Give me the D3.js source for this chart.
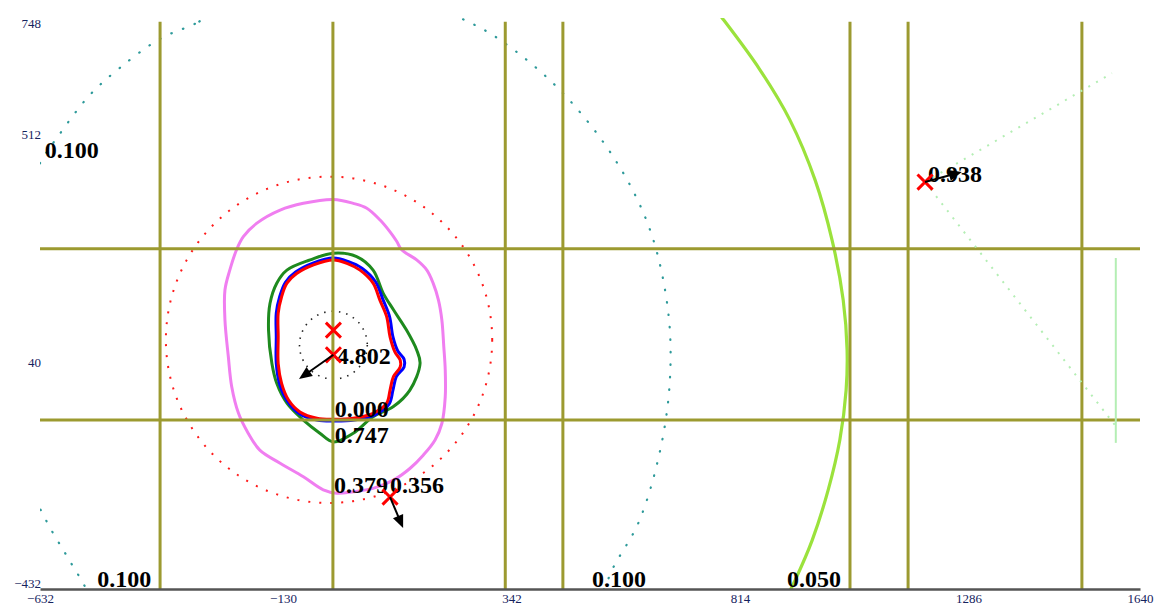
<!DOCTYPE html>
<html><head><meta charset="utf-8">
<script src="https://cdn.jsdelivr.net/npm/d3@7"></script>
<style>html,body{margin:0;padding:0;background:#fff;overflow:hidden}</style>
</head><body><svg id="chart" width="1160" height="606"></svg>
<script>
// ---------- data (in chart units) ----------
const xDomain = [-632, 1640];
const yDomain = [-432, 748];
const xTicks = [-632, -130, 342, 814, 1286, 1640];
const yTicks = [748, 512, 40, -432];
const gridX = [-384, -27, 329, 448, 1041, 1161, 1520];
const gridXExtent = [-432, 740];
const gridY = [271, -83];

const pinkContour = [[-26,373],[15,365],[43,355],[70,331],[91,306],[105,286],[115,269],[146,248],[167,227],[180,200],[191,165],[198,124],[202,69],[205,21],[205,-35],[198,-90],[184,-124],[160,-155],[132,-183],[98,-207],[56,-224],[15,-231],[-19,-234],[-47,-227],[-88,-200],[-136,-172],[-178,-145],[-202,-110],[-222,-69],[-236,-14],[-243,48],[-250,124],[-250,186],[-240,227],[-226,269],[-212,296],[-184,324],[-136,351],[-88,365]];
const greenContour = [[-26,262],[22,255],[56,227],[77,179],[98,145],[125,103],[146,62],[153,34],[132,-21],[98,-55],[56,-76],[15,-110],[-26,-128],[-54,-110],[-88,-83],[-122,-48],[-143,-7],[-153,34],[-160,103],[-157,158],[-143,200],[-122,227],[-74,248]];
const blueContour = [[-26,252],[4,245],[33,231],[61,203],[76,167],[90,131],[97,89],[107,60],[120,43],[120,27],[104,7],[97,-21],[89,-50],[60,-72],[17,-83],[-26,-85],[-60,-83],[-96,-70],[-121,-44],[-137,-9],[-144,34],[-144,89],[-144,138],[-137,172],[-125,202],[-104,223],[-67,242]];
const redContour = [[-26,248],[2,241],[29,227],[56,200],[70,165],[84,131],[91,89],[101,58],[112,41],[112,27],[98,7],[91,-21],[84,-48],[56,-69],[15,-79],[-26,-81],[-60,-79],[-95,-66],[-119,-41],[-133,-7],[-140,34],[-140,89],[-140,138],[-133,172],[-122,200],[-102,220],[-67,238]];
const tealContour = [[-240,775],[-312,736],[-384,705],[-467,645],[-529,589],[-593,506],[-632,448],[-694,310],[-725,83],[-694,-124],[-620,-289],[-580,-358],[-554,-401],[-518,-455],[-302,-620],[-12,-661],[277,-599],[504,-475],[556,-380],[605,-293],[649,-145],[669,0],[665,145],[628,310],[556,455],[442,599],[318,703],[236,748],[112,796],[-33,810]];
const limeContour = [[731,806],[777,748],[855,641],[917,537],[969,413],[1004,289],[1027,165],[1035,62],[1033,-21],[1020,-124],[996,-227],[963,-331],[928,-413],[897,-475]];

const redRing = [-35, 83, 337];     // cx, cy, r
const blackRing = [-26, 72, 70];    // cx, cy, r

const markers = [[-26,103],[-26,52],[91,-242],[1196,409]];
const arrows = [[-26,52,-97,2],[91,-242,118,-306],[1196,409,1272,430]];
const greenRays = [[1196,409,1582,634],[1196,409,1588,-93]];
const greenBar = [1590, 252, -130];

const labelText = ["0.100","0.100","0.100","0.050","4.802","0.000","0.747","0.379","0.356","0.938"];
const labelX = [-622,-514,508,911,-19,-23,-23,-25,91,1202];
const labelY = [459,-428,-428,-428,33,-77,-130,-234,-234,409];

// ---------- drawing ----------
const svg = d3.select("#chart");
const x = d3.scaleLinear().domain(xDomain).range([40, 1140]);
const y = d3.scaleLinear().domain(yDomain).range([589, 18]);

svg.append("rect").attr("width",1160).attr("height",606).attr("fill","#fff");
svg.append("defs").append("clipPath").attr("id","plot").append("rect")
  .attr("x", x(xDomain[0])).attr("y", y(yDomain[1]))
  .attr("width", x(xDomain[1]) - x(xDomain[0]))
  .attr("height", y(yDomain[0]) - y(yDomain[1]));

const g = svg.append("g").attr("clip-path","url(#plot)");
const closed = d3.line().x(d=>x(d[0])).y(d=>y(d[1])).curve(d3.curveCatmullRomClosed.alpha(0.5));
const open = d3.line().x(d=>x(d[0])).y(d=>y(d[1])).curve(d3.curveCatmullRom.alpha(0.5));

g.append("path").attr("d", closed(tealContour)).attr("fill","none")
  .attr("stroke","#2e9a9a").attr("stroke-width",2.2).attr("stroke-linecap","round")
  .attr("stroke-dasharray","0.5,12");
g.append("path").attr("d", open(limeContour)).attr("fill","none")
  .attr("stroke","#9be23c").attr("stroke-width",3.2);
g.append("circle").attr("cx", x(redRing[0])).attr("cy", y(redRing[1]))
  .attr("r", x(redRing[2]) - x(0)).attr("fill","none")
  .attr("stroke","#ff1a1a").attr("stroke-width",2).attr("stroke-dasharray","2,9");
g.append("path").attr("d", closed(pinkContour)).attr("fill","none")
  .attr("stroke","#f07ef0").attr("stroke-width",3);
g.append("path").attr("d", closed(greenContour)).attr("fill","none")
  .attr("stroke","#1e8a1e").attr("stroke-width",3);
g.append("path").attr("d", closed(blueContour)).attr("fill","none")
  .attr("stroke","#0000ff").attr("stroke-width",3);
g.append("path").attr("d", closed(redContour)).attr("fill","none")
  .attr("stroke","#ff0000").attr("stroke-width",3);
g.append("circle").attr("cx", x(blackRing[0])).attr("cy", y(blackRing[1]))
  .attr("r", x(blackRing[2]) - x(0)).attr("fill","none")
  .attr("stroke","#222").attr("stroke-width",1.6).attr("stroke-dasharray","1.5,6");

// grid
g.selectAll("line.gx").data(gridX).join("line").attr("class","gx")
  .attr("x1", d=>x(d)).attr("x2", d=>x(d))
  .attr("y1", y(gridXExtent[1])).attr("y2", y(gridXExtent[0]))
  .attr("stroke","#9c9a30").attr("stroke-width",3);
g.selectAll("line.gy").data(gridY).join("line").attr("class","gy")
  .attr("x1", x(xDomain[0])).attr("x2", x(xDomain[1]))
  .attr("y1", d=>y(d)).attr("y2", d=>y(d))
  .attr("stroke","#9c9a30").attr("stroke-width",3);

// light green rays + bar
g.selectAll("line.ray").data(greenRays).join("line").attr("class","ray")
  .attr("x1", d=>x(d[0])).attr("y1", d=>y(d[1])).attr("x2", d=>x(d[2])).attr("y2", d=>y(d[3]))
  .attr("stroke","#b4eeb4").attr("stroke-width",2).attr("stroke-dasharray","2,7");
g.append("line").attr("x1", x(greenBar[0])).attr("x2", x(greenBar[0]))
  .attr("y1", y(greenBar[1])).attr("y2", y(greenBar[2]))
  .attr("stroke","#b4eeb4").attr("stroke-width",2);

// axes
const xAxis = svg.append("g").attr("transform",`translate(0,${y(yDomain[0])})`)
  .call(d3.axisBottom(x).tickValues(xTicks).tickFormat(d3.format("d")).tickSize(0).tickSizeOuter(0).tickPadding(5));
xAxis.select(".domain").attr("stroke","#555").attr("stroke-width",2.5);
xAxis.selectAll("text").attr("font-family","Liberation Serif").attr("font-size",13).attr("fill","#15225e");

const yAxis = svg.append("g").attr("transform",`translate(${x(xDomain[0]) + 2},0)`)
  .call(d3.axisLeft(y).tickValues(yTicks).tickFormat(d3.format("d")).tickSize(0).tickPadding(1));
yAxis.select(".domain").remove();
yAxis.selectAll("text").attr("font-family","Liberation Serif").attr("font-size",13).attr("fill","#15225e")
  .attr("y", (d,i) => i === 0 ? 5 : (i === yTicks.length - 1 ? -6 : 2));

// contour labels
svg.append("g").selectAll("text").data(labelText).join("text")
  .attr("x", (d,i)=>x(labelX[i])).attr("y", (d,i)=>y(labelY[i]))
  .attr("font-family","Liberation Serif").attr("font-weight","bold").attr("font-size",24)
  .attr("fill","#000").text(d=>d);

// markers
svg.append("g").selectAll("path").data(markers).join("path")
  .attr("transform", d=>`translate(${x(d[0])},${y(d[1])})`)
  .attr("d", d3.symbol(d3.symbolTimes, 150)())
  .attr("fill","none").attr("stroke","#ff0000").attr("stroke-width",3);

// arrows
const ag = svg.append("g");
arrows.forEach(d=>{
  const x1=x(d[0]), y1=y(d[1]), x2=x(d[2]), y2=y(d[3]);
  const a=Math.atan2(y2-y1, x2-x1), L=13, w=5.5;
  ag.append("line").attr("x1",x1).attr("y1",y1)
    .attr("x2",x2-L*0.6*Math.cos(a)).attr("y2",y2-L*0.6*Math.sin(a))
    .attr("stroke","#000").attr("stroke-width",2);
  const bx=x2-L*Math.cos(a), by=y2-L*Math.sin(a);
  ag.append("path").attr("d",`M${x2},${y2}L${bx+w*Math.sin(a)},${by-w*Math.cos(a)}L${bx-w*Math.sin(a)},${by+w*Math.cos(a)}Z`)
    .attr("fill","#000");
});
</script></body></html>
